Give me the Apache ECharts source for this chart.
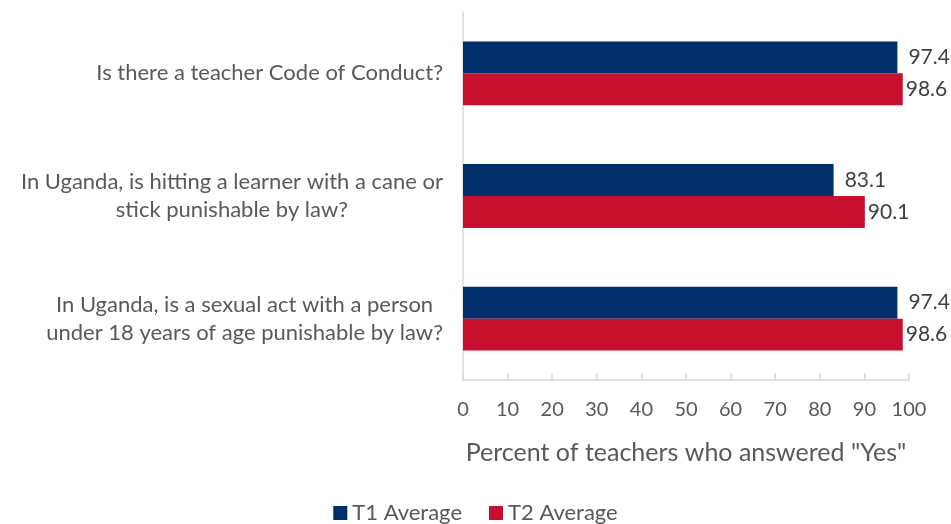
<!DOCTYPE html>
<html>
<head>
<meta charset="utf-8">
<script src="https://cdn.jsdelivr.net/npm/echarts@6/dist/echarts.min.js"></script>
<style>html,body{margin:0;padding:0;background:#fff}#c{width:951px;height:524px}</style>
</head>
<body>
<div id="c"></div>
<script>
const categories = [
  ["Is there a teacher Code of Conduct?"],
  ["In Uganda, is hitting a learner with a cane or", "stick punishable by law?"],
  ["In Uganda, is a sexual act with a person", "under 18 years of age punishable by law?"]
];
const t1Values = [97.4, 83.1, 97.4];
const t2Values = [98.6, 90.1, 98.6];
const seriesNames = ["T1 Average", "T2 Average"];
const xTicks = [0, 100, 10];

const FONT = 'Lato';
const TXT = '#595959';
const chart = echarts.init(document.getElementById('c'));
chart.setOption({
  animation: false,
  textStyle: { fontFamily: FONT, color: TXT },
  grid: { left: 463, right: 42, top: 12, bottom: 144, containLabel: false },
  legend: {
    top: 497, left: 'center',
    itemWidth: 14, itemHeight: 14, itemGap: 27,
    icon: 'rect',
    textStyle: { fontFamily: FONT, fontSize: 22, color: TXT },
    data: seriesNames
  },
  xAxis: {
    type: 'value', min: xTicks[0], max: xTicks[1], interval: xTicks[2],
    name: 'Percent of teachers who answered "Yes"',
    nameLocation: 'middle', nameGap: 60,
    nameTextStyle: { fontFamily: FONT, fontSize: 25, color: TXT },
    axisLine: { show: true, lineStyle: { color: '#d9d9d9', width: 1.5 } },
    axisTick: { show: true, inside: true, length: 7, lineStyle: { color: '#d9d9d9', width: 1.5 } },
    axisLabel: { fontFamily: FONT, fontSize: 20, color: TXT, margin: 20 },
    splitLine: { show: false }
  },
  yAxis: {
    type: 'category', inverse: true,
    data: categories.map(c => c.join('\n')),
    axisLine: { show: true, lineStyle: { color: '#d9d9d9', width: 1.5 } },
    axisTick: { show: false },
    axisLabel: {
      margin: 20, align: 'right',
      formatter: v => v.split('\n').map(l => '{c|' + l + '}').join('\n'),
      rich: { c: { align: 'center', fontFamily: FONT, fontSize: 22, color: TXT, lineHeight: 28 } }
    }
  },
  series: [
    {
      name: seriesNames[0], type: 'bar', data: t1Values,
      barCategoryGap: '48%', barGap: '0%',
      itemStyle: { color: '#002F6C' },
      label: { show: true, position: 'right', distance: 11, fontFamily: FONT, fontSize: 21, color: '#404040' }
    },
    {
      name: seriesNames[1], type: 'bar', data: t2Values,
      barCategoryGap: '48%', barGap: '0%',
      itemStyle: { color: '#C8102E' },
      label: { show: true, position: 'right', distance: 3, fontFamily: FONT, fontSize: 21, color: '#404040' }
    }
  ]
});
</script>
</body>
</html>
